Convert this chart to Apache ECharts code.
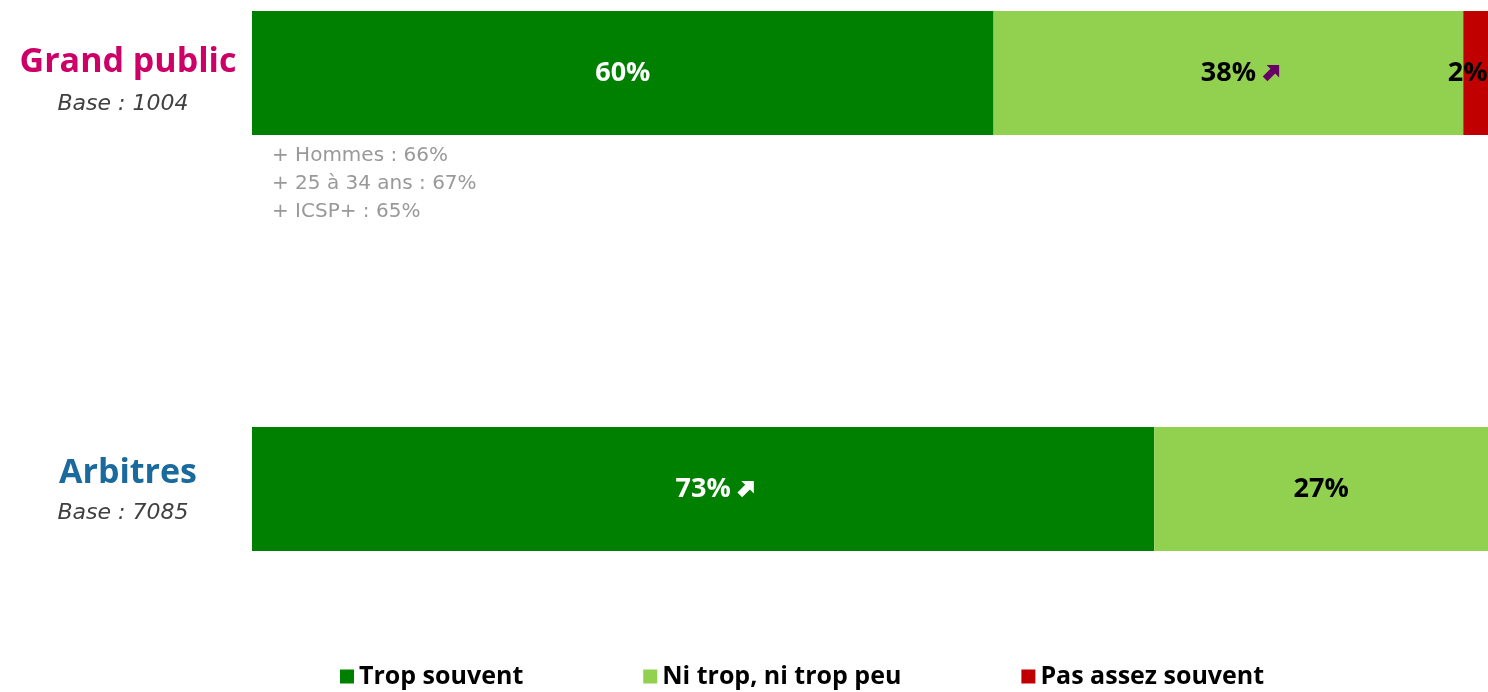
<!DOCTYPE html>
<html><head><meta charset="utf-8">
<script src="https://cdn.jsdelivr.net/npm/echarts@6/dist/echarts.min.js"></script>
<style>html,body{margin:0;padding:0;background:#fff}#c{width:1488px;height:692px}</style>
</head><body><div id="c"></div>
<script>
const groups = ['Grand public', 'Arbitres'];
const bases = ['Base : 1004', 'Base : 7085'];
const seriesNames = ['Trop souvent', 'Ni trop, ni trop peu', 'Pas assez souvent'];
const tropSouvent = [60, 73];
const niTrop = [38, 27];
const pasAssez = [2, 0];
const trends = [['', 'up'], ['up', ''], ['', '']];
const notes = ['+ Hommes : 66%', '+ 25 à 34 ans : 67%', '+ ICSP+ : 65%'];

const FONT = '"Open Sans", "Noto Sans", sans-serif';
const FONT2 = '"DejaVu Sans", sans-serif';
function arrowImg(color) {
  const svg = '<svg xmlns="http://www.w3.org/2000/svg" width="20" height="20" viewBox="0 0 20 20">' +
    '<polygon fill="' + color + '" points="5,1 19,1 19,15 14.6,10.6 6,19.2 0.8,14 9.4,5.4"/></svg>';
  return 'data:image/svg+xml;charset=utf-8,' + encodeURIComponent(svg);
}
const colors = ['#008000', '#92D050', '#C00000'];
const labelColors = ['#ffffff', '#000000', '#000000'];
const arrowColors = ['#ffffff', '#660066', '#660066'];
const values = [tropSouvent, niTrop, pasAssez];

const chart = echarts.init(document.getElementById('c'));
const series = values.map((vals, si) => ({
  name: seriesNames[si],
  type: 'bar',
  stack: 'total',
  barWidth: 124,
  itemStyle: { color: colors[si] },
  data: vals.map((v, i) => ({
    value: v,
    label: si === 2 ? { position: 'inside', offset: [-8, 0] }
      : (trends[si][i] ? { offset: [12, 0] } : {})
  })),
  label: {
    show: true,
    position: 'inside',
    fontFamily: FONT,
    fontSize: 27,
    fontWeight: 'bold',
    color: labelColors[si],
    formatter: p => {
      if (!p.value) return '';
      const t = trends[si][p.dataIndex];
      return '{v|' + p.value + '%}' + (t ? '{s|}{a|}' : '');
    },
    rich: {
      v: { fontFamily: FONT, fontSize: 27, fontWeight: 'bold', color: labelColors[si] },
      s: { width: 6 },
      a: { width: 18, height: 18, backgroundColor: { image: arrowImg(arrowColors[si]) } }
    }
  }
}));

chart.setOption({
  animation: false,
  grid: { left: 252, right: 0, top: 73, bottom: 203 },
  xAxis: { type: 'value', min: 0, max: 100, show: false },
  yAxis: {
    type: 'category',
    data: groups,
    inverse: true,
    boundaryGap: false,
    axisLine: { show: false },
    axisTick: { show: false },
    splitLine: { show: false },
    axisLabel: {
      align: 'center',
      margin: 124,
      formatter: (v, i) => '{a' + i + '| }\n{t' + i + '|' + v + '}\n{m' + i + '| }\n{b|' + bases[i] + '}',
      rich: {
        a0: { fontSize: 1, height: 14, lineHeight: 14 },
        m0: { fontSize: 1, height: 14, lineHeight: 14 },
        a1: { fontSize: 1, height: 2, lineHeight: 2 },
        m1: { fontSize: 1, height: 12, lineHeight: 12 },
        t0: { fontFamily: FONT, fontSize: 34, fontWeight: 'bold', color: '#CC0066' },
        t1: { fontFamily: FONT, fontSize: 34, fontWeight: 'bold', color: '#1A6A9E' },
        b: { fontFamily: FONT2, fontSize: 22, fontStyle: 'italic', color: '#404040', padding: [0, 10, 0, 0] }
      }
    }
  },
  legend: {
    left: 340,
    top: 664,
    padding: 0,
    itemWidth: 14,
    itemHeight: 14,
    itemGap: 120,
    icon: 'rect',
    data: seriesNames,
    textStyle: { fontFamily: FONT, fontSize: 25, fontWeight: 'bold', color: '#000' }
  },
  graphic: notes.map((n, i) => ({
    type: 'text',
    left: 272,
    top: 146 + i * 28,
    style: { text: n, fontFamily: FONT2, fontSize: 20, fill: '#999999' }
  })),
  series
});
</script></body></html>
